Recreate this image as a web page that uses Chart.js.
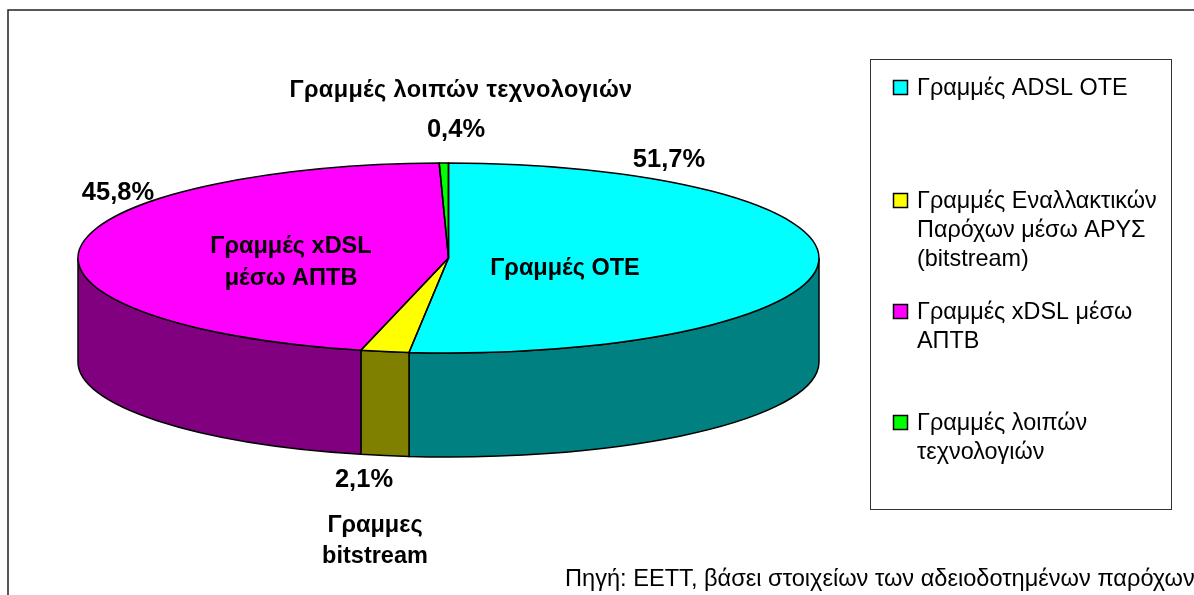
<!DOCTYPE html>
<html lang="el">
<head>
<meta charset="utf-8">
<title>Γραμμές ευρυζωνικής πρόσβασης</title>
<style>
  html, body { margin: 0; padding: 0; background: #fff; overflow: hidden; }
  #wrap { width: 1194px; height: 595px; }
</style>
</head>
<body>
<div id="wrap"><canvas id="grafico" width="1194" height="595"></canvas></div>
<script src="https://cdn.jsdelivr.net/npm/chart.js@4/dist/chart.umd.min.js"></script>
<script>
// DADOS
const categorias = ["Γραμμές ADSL ΟΤΕ", "Γραμμές Εναλλακτικών Παρόχων μέσω ΑΡΥΣ (bitstream)", "Γραμμές xDSL μέσω ΑΠΤΒ", "Γραμμές λοιπών τεχνολογιών"];
const valores = [51.7, 2.1, 45.8, 0.4];
const coresTopo = ["#00ffff", "#ffff00", "#ff00ff", "#00ff00"];
const coresLado = ["#008080", "#808000", "#800080", "#008000"];
const legendaLinhas = [
    ["Γραμμές ADSL OTE"],
    ["Γραμμές Εναλλακτικών", "Παρόχων μέσω ΑΡΥΣ", "(bitstream)"],
    ["Γραμμές xDSL μέσω", "ΑΠΤΒ"],
    ["Γραμμές λοιπών", "τεχνολογιών"]
];
const fonte = "Πηγή: ΕΕΤΤ, βάσει στοιχείων των αδειοδοτημένων παρόχων";

const familia = '"Liberation Sans", Arial, sans-serif';
const escalaY = 95 / 370.5;   // achata o circulo em elipse
const altura = 104;           // altura da parede do disco

function pct(v) { return v.toFixed(1).replace(".", ",") + "%"; }

function texto(c, t, x, y, tam, bold, align, espaco) {
    c.font = (bold ? "bold " : "") + tam + "px " + familia;
    c.textAlign = align || "left";
    c.textBaseline = "alphabetic";
    c.letterSpacing = espaco || "0px";
    c.fillStyle = "#000";
    c.fillText(t, x, y);
    c.letterSpacing = "0px";
}

// PIZZA 3D: parede embaixo, topo achatado pelo proprio Chart.js
const pizza3d = {
    id: "pizza3d",
    beforeDatasetsDraw(chart) {
        const c = chart.ctx;
        const arcos = chart.getDatasetMeta(0).data;
        c.save();
        c.lineWidth = 1.5;
        c.strokeStyle = "#000";
        arcos.forEach((a, i) => {
            const ini = Math.max(a.startAngle, 0);
            const fim = Math.min(a.endAngle, Math.PI);
            if (fim <= ini) return;
            const ry = a.outerRadius * escalaY;
            c.beginPath();
            c.ellipse(a.x, a.y, a.outerRadius, ry, 0, ini, fim);
            c.ellipse(a.x, a.y + altura, a.outerRadius, ry, 0, fim, ini, true);
            c.closePath();
            c.fillStyle = coresLado[i];
            c.fill();
            c.stroke();
        });
        c.restore();

        const a0 = arcos[0];
        c.save();
        c.translate(a0.x, a0.y);
        c.scale(1, escalaY);
        c.translate(-a0.x, -a0.y);
    },
    afterDatasetsDraw(chart) {
        const c = chart.ctx;
        c.restore();
        // contorno fora da escala para a linha nao ficar fina
        c.save();
        c.lineWidth = 1.5;
        c.strokeStyle = "#000";
        c.lineJoin = "round";
        chart.getDatasetMeta(0).data.forEach(a => {
            c.beginPath();
            c.moveTo(a.x, a.y);
            c.ellipse(a.x, a.y, a.outerRadius, a.outerRadius * escalaY, 0, a.startAngle, a.endAngle);
            c.closePath();
            c.stroke();
        });
        c.restore();
    },
    afterDraw(chart) {
        const c = chart.ctx;
        c.save();

        // moldura
        c.strokeStyle = "#222";
        c.lineWidth = 1.5;
        c.beginPath();
        c.moveTo(8, 595);
        c.lineTo(8, 10);
        c.lineTo(1194, 10);
        c.stroke();

        // caixa da legenda
        c.lineWidth = 1;
        c.strokeStyle = "#333";
        c.strokeRect(870.5, 59.5, 301, 450);
        const baseLegenda = [[95], [208, 237, 266], [319, 348], [430, 459]];
        legendaLinhas.forEach((linhas, i) => {
            const y0 = baseLegenda[i][0];
            c.fillStyle = coresTopo[i];
            c.fillRect(893.5, y0 - 14.5, 14, 14);
            c.strokeStyle = "#000";
            c.lineWidth = 1.5;
            c.strokeRect(893.5, y0 - 14.5, 14, 14);
            linhas.forEach((l, j) => texto(c, l, 917, baseLegenda[i][j], 23.4, false));
        });

        // rotulos de porcentagem
        texto(c, pct(valores[0]), 669, 167, 25.5, true, "center");
        texto(c, pct(valores[1]), 364, 487, 25.5, true, "center");
        texto(c, pct(valores[2]), 118, 200, 25.5, true, "center");
        texto(c, pct(valores[3]), 456, 137, 25.5, true, "center");

        // nomes das fatias
        texto(c, "Γραμμές λοιπών τεχνολογιών", 461, 97, 23.5, true, "center", "0.35px");
        texto(c, "Γραμμές ΟΤΕ", 565, 275, 23.5, true, "center");
        texto(c, "Γραμμές xDSL", 291, 253, 23.5, true, "center");
        texto(c, "μέσω ΑΠΤΒ", 291, 285, 23.5, true, "center");
        texto(c, "Γραμμες", 375, 532, 23.5, true, "center");
        texto(c, "bitstream", 375, 563, 23.5, true, "center");

        texto(c, fonte, 565, 586, 23.6, false);
        c.restore();
    }
};

new Chart(document.getElementById("grafico"), {
    type: "pie",
    data: {
        labels: categorias,
        datasets: [{
            data: valores,
            backgroundColor: coresTopo,
            borderWidth: 0,
            radius: 370.5,
            clip: false
        }]
    },
    options: {
        responsive: false,
        animation: false,
        events: [],
        layout: { padding: { left: 0, right: 297, top: 0, bottom: 79 } },
        plugins: { legend: { display: false }, tooltip: { enabled: false } }
    },
    plugins: [pizza3d]
});
</script>
</body>
</html>
